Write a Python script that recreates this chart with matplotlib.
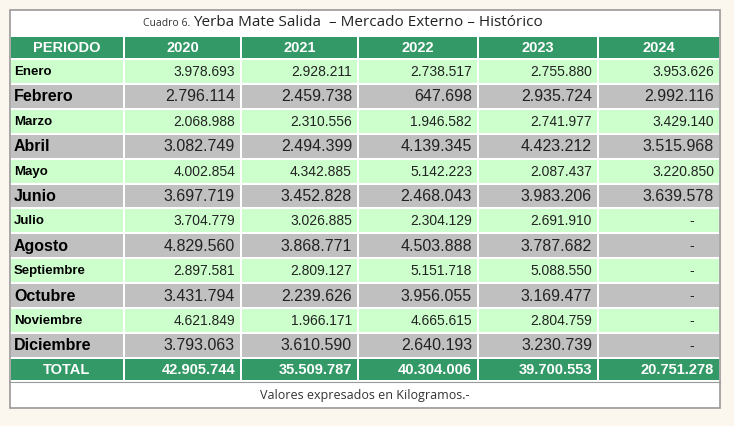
import matplotlib.pyplot as plt
from matplotlib.patches import Rectangle

plt.rcParams['font.family'] = ['Liberation Sans', 'DejaVu Sans']

years = ["2020", "2021", "2022", "2023", "2024"]
months = ["Enero", "Febrero", "Marzo", "Abril", "Mayo", "Junio", "Julio",
          "Agosto", "Septiembre", "Octubre", "Noviembre", "Diciembre"]
v2020 = [3978693, 2796114, 2068988, 3082749, 4002854, 3697719, 3704779,
         4829560, 2897581, 3431794, 4621849, 3793063]
v2021 = [2928211, 2459738, 2310556, 2494399, 4342885, 3452828, 3026885,
         3868771, 2809127, 2239626, 1966171, 3610590]
v2022 = [2738517, 647698, 1946582, 4139345, 5142223, 2468043, 2304129,
         4503888, 5151718, 3956055, 4665615, 2640193]
v2023 = [2755880, 2935724, 2741977, 4423212, 2087437, 3983206, 2691910,
         3787682, 5088550, 3169477, 2804759, 3230739]
v2024 = [3953626, 2992116, 3429140, 3515968, 3220850, 3639578, None,
         None, None, None, None, None]
totals = [42905744, 35509787, 40304006, 39700553, 20751278]
series = [v2020, v2021, v2022, v2023, v2024]


def fmt(v):
    if v is None:
        return "-"
    return f"{v:,}".replace(",", ".")


GREEN = "#339966"
LIGHT = "#ccffcc"
GRAY = "#c0c0c0"

fig = plt.figure(figsize=(7.34, 4.26), dpi=100)
fig.patch.set_facecolor("#fbf7ef")
ax = fig.add_axes([0, 0, 1, 1])
ax.set_xlim(0, 734)
ax.set_ylim(426, 0)
ax.axis("off")

# outer frame
ax.add_patch(Rectangle((10, 10), 710, 398, facecolor="white", edgecolor="#999999", lw=1.2))
ax.text(190, 24, "Cuadro 6.", fontsize=7.5, family="Open Sans", va="center", ha="right", color="#333333")
ax.text(193, 22, "Yerba Mate Salida  – Mercado Externo – Histórico", fontsize=11,
        family="Open Sans", va="center", ha="left", color="#222222")

edges = [10, 124, 241, 358, 478, 598, 720]
top = 36
heights = [23] + [24.9] * 12 + [23]
ys = [top]
for h in heights:
    ys.append(ys[-1] + h)

for r in range(14):
    y0, y1 = ys[r], ys[r + 1]
    if r == 0 or r == 13:
        fc = GREEN
    else:
        fc = LIGHT if r % 2 == 1 else GRAY
    for c in range(6):
        ax.add_patch(Rectangle((edges[c] + 1, y0 + 1), edges[c + 1] - edges[c] - 2, y1 - y0 - 2,
                               facecolor=fc, edgecolor="none"))
    yc = (y0 + y1) / 2 + 0.5
    if r == 0:
        ax.text((edges[0] + edges[1]) / 2, yc, "PERIODO", color="white", fontsize=10.5,
                fontweight="bold", ha="center", va="center")
        for c, yr in enumerate(years):
            ax.text((edges[c + 1] + edges[c + 2]) / 2, yc, yr, color="white", fontsize=10.5,
                    fontweight="bold", ha="center", va="center")
    elif r == 13:
        ax.text((edges[0] + edges[1]) / 2, yc, "TOTAL", color="white", fontsize=10.5,
                fontweight="bold", ha="center", va="center")
        for c, tot in enumerate(totals):
            ax.text(edges[c + 2] - 6, yc, fmt(tot), color="white", fontsize=10.5,
                    fontweight="bold", ha="right", va="center")
    else:
        i = r - 1
        big = i % 2 == 1
        ax.text(edges[0] + 4, yc, months[i], color="black", fontsize=11.5 if big else 9.5,
                fontweight="bold", ha="left", va="center")
        for c, s in enumerate(series):
            v = s[i]
            if v is None:
                ax.text(692, yc, "-", fontsize=10,
                        ha="center", va="center", color="#222222")
            else:
                ax.text(edges[c + 2] - 6, yc, fmt(v), fontsize=11.5 if big else 10,
                        ha="right", va="center", color="#222222")

ax.plot([10, 720], [ys[-1] + 1, ys[-1] + 1], color="#999999", lw=0.8)
ax.text(365, 396, "Valores expresados en Kilogramos.-", fontsize=9, family="Open Sans",
        ha="center", va="center", color="#333333")

fig.savefig("out.png", facecolor=fig.get_facecolor())
